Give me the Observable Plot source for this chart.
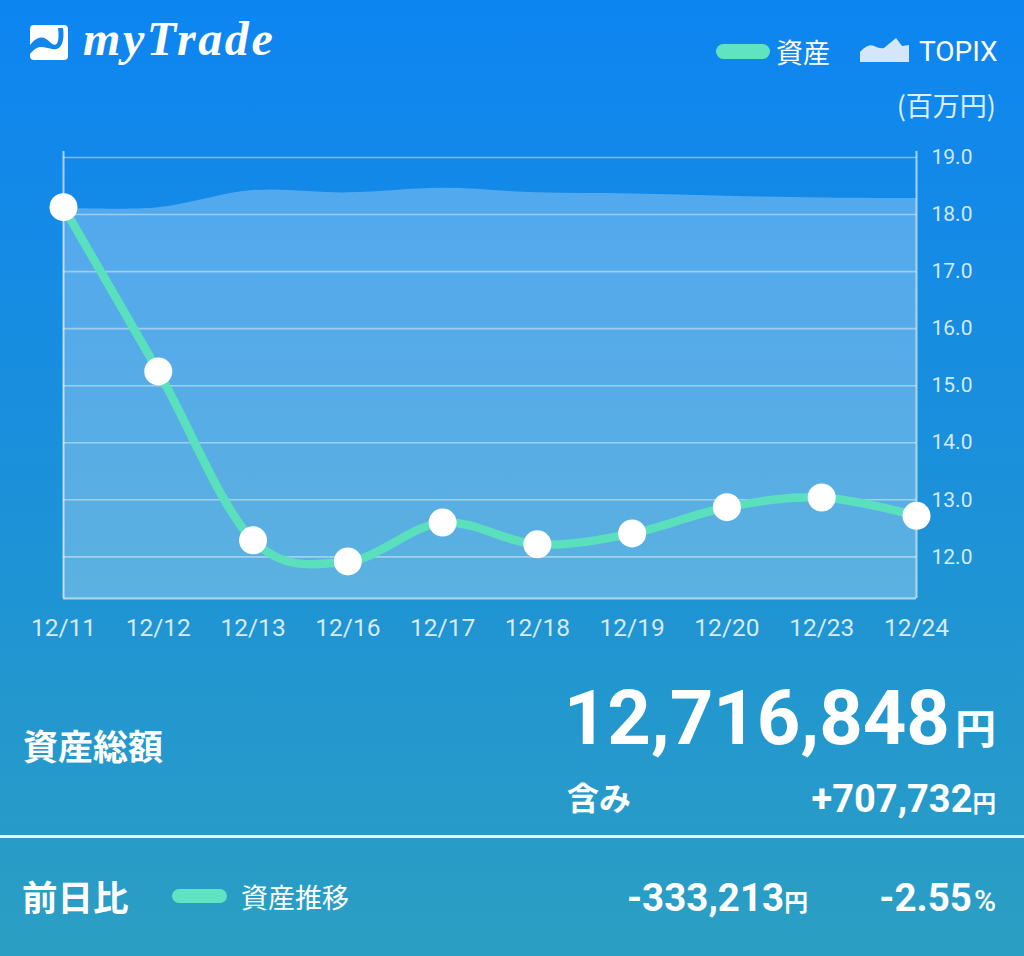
<!DOCTYPE html>
<html lang="ja"><head><meta charset="utf-8">
<script src="https://cdn.jsdelivr.net/npm/d3@7"></script>
<script src="https://cdn.jsdelivr.net/npm/@observablehq/plot@0.6"></script>
<style>
html,body{margin:0;padding:0;width:1024px;height:956px;overflow:hidden}
#page{position:relative;width:1024px;height:956px;background:linear-gradient(180deg,#0d85f1 0%,#1a8fdc 45%,#2b9fc2 100%);font-family:"Noto Sans CJK JP",Roboto,sans-serif;color:#fff;overflow:hidden}
#chart{position:absolute;left:0;top:0}
#chart svg{background:transparent;display:block}
.t{position:absolute;white-space:nowrap;line-height:1}
.num{font-family:Roboto,"Noto Sans CJK JP",sans-serif}
.y{font-size:.62em;font-family:"Noto Sans CJK JP",sans-serif;font-weight:700}
.sw{position:absolute;background:#5fe3c0;border-radius:8px}
</style></head><body>
<div id="page">
<svg style="position:absolute;left:30px;top:24px" width="40" height="38" viewBox="0 0 40 38"><path d="M4 1H34Q38 1 38 5V32Q38 36 34 36H4Q0 36 0 32V5Q0 1 4 1Z" fill="#fff"/><path d="M0 21C8 11 14 12 20 18S30 20 28 4L33 4C35 18 31 27 22 25S8 20 0 30Z" fill="#1187ec"/></svg>
<div class="t" style="left:83px;top:11px;font:italic bold 48px 'Liberation Serif',serif;letter-spacing:2.6px">myTrade</div>
<div class="sw" style="left:716px;top:44px;width:54px;height:15px"></div>
<div class="t" style="left:776px;top:38px;font-size:27px">資産</div>
<svg style="position:absolute;left:860px;top:37px" width="50" height="25" viewBox="0 0 50 25"><path d="M0 25V15Q8 6 14 9T24 11L36 1L42 9L49 8V25Z" fill="#d3e6fb"/></svg>
<div class="t num" style="left:919px;top:38px;font-size:28px">TOPIX</div>
<div class="t" style="right:28px;top:91px;font-size:27px;opacity:.85">(百万円)</div>
<div id="chart"></div>
<div class="t" style="left:23px;top:727px;font-size:35px;font-weight:700">資産総額</div>
<div class="t num" style="right:28px;top:680px;font-size:76px;font-weight:700" id="total"></div>
<div class="t" style="left:567px;top:780px;font-size:32px;font-weight:700">含み</div>
<div class="t num" style="right:28px;top:780px;font-size:38px;font-weight:700" id="gain"></div>
<div style="position:absolute;left:0;top:835px;width:1024px;height:2.5px;background:#e4f6fb"></div>
<div class="t" style="left:22px;top:878px;font-size:35.5px;font-weight:700">前日比</div>
<div class="sw" style="left:172px;top:889px;width:55px;height:14px"></div>
<div class="t" style="left:241px;top:883px;font-size:27px">資産推移</div>
<div class="t num" style="right:216px;top:879px;font-size:38.5px;font-weight:700" id="diff"></div>
<div class="t num" style="right:28px;top:879px;font-size:38.5px;font-weight:700" id="pct"></div>
</div>
<script>
const dates = ["12/11","12/12","12/13","12/16","12/17","12/18","12/19","12/20","12/23","12/24"];
const assets = [18.13,15.25,12.29,11.92,12.60,12.22,12.41,12.87,13.04,12.72];
const topix = [18.11,18.12,18.42,18.38,18.46,18.38,18.36,18.32,18.29,18.28];
const yTicks = [12,13,14,15,16,17,18,19];
const totalText = "12,716,848";
const gainText = "+707,732";
const diffText = "-333,213";
const pctText = "-2.55";
const yen = "円";

document.getElementById("total").innerHTML = totalText + '<span class="y" style="font-size:.54em;margin-left:5px">' + yen + '</span>';
document.getElementById("gain").innerHTML = gainText + '<span class="y">' + yen + '</span>';
document.getElementById("diff").innerHTML = diffText + '<span class="y">' + yen + '</span>';
document.getElementById("pct").innerHTML = pctText + '<span style="font-size:30px;font-weight:500;margin-left:2px">%</span>';

const rows = dates.map((d,i)=>({d,a:assets[i],t:topix[i]}));
const yBase = 11.27, yTop = 19.105;
document.getElementById("chart").append(Plot.plot({
  width:1024,height:660,
  marginLeft:63,marginRight:108,marginTop:151,marginBottom:62,
  style:{background:"transparent",overflow:"visible"},
  x:{type:"point",domain:dates,label:null,padding:0,round:false},
  y:{domain:[yBase,yTop],label:null},
  marks:[
    Plot.areaY(rows,{x:"d",y1:yBase,y2:"t",curve:"cardinal",tension:0,fill:"#fff",fillOpacity:.27}),
    Plot.ruleY(yTicks,{stroke:"#fff",strokeOpacity:.42,strokeWidth:1.6}),
    Plot.ruleY([yBase],{stroke:"#fff",strokeOpacity:.62,strokeWidth:2}),
    Plot.ruleX([dates[0],dates[dates.length-1]],{stroke:"#fff",strokeOpacity:.62,strokeWidth:2,y1:yBase,y2:yTop}),
    Plot.axisX({domain:dates,tickSize:0,tickPadding:20,fontSize:24.5,fill:"#fff",fillOpacity:.82,fontFamily:"Roboto",label:null,anchor:"bottom"}),
    Plot.axisY({anchor:"right",ticks:yTicks,tickSize:0,tickPadding:15,fontSize:21,fill:"#fff",fillOpacity:.82,fontFamily:"Roboto",label:null,tickFormat:d=>d.toFixed(1)}),
    Plot.lineY(rows,{x:"d",y:"a",curve:"cardinal",tension:0,stroke:"#5be0bd",strokeWidth:8.5}),
    Plot.dot(rows,{x:"d",y:"a",r:14,fill:"#fff",stroke:"none"})
  ]
}));
</script>
</body></html>
